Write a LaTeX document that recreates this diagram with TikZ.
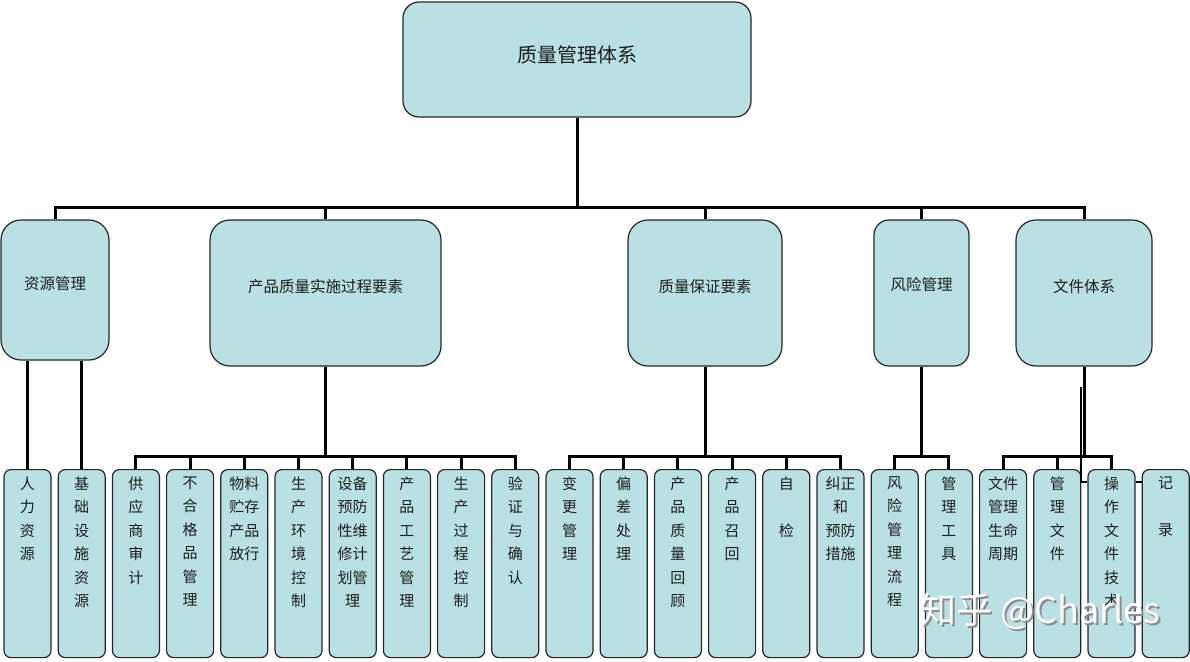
\documentclass[tikz,border=0pt]{standalone}
\usepackage{fontspec}
\newfontfamily\cjk{Noto Sans CJK SC}
\usepackage{tikz}

\definecolor{boxfill}{HTML}{B9E0E2}
\definecolor{boxline}{HTML}{262626}
\definecolor{inkgray}{HTML}{1E1E1E}

\tikzset{
  root/.style={draw=boxline,line width=1.2pt,fill=boxfill,rounded corners=16pt,
    minimum width=348pt,minimum height=115pt,text depth=11pt,
    font=\cjk\fontsize{20}{24}\selectfont,text=inkgray},
  branch/.style={draw=boxline,line width=1.2pt,fill=boxfill,rounded corners=20pt,
    minimum height=146pt,text depth=14pt,inner sep=0pt,
    font=\cjk\fontsize{15.5}{20}\selectfont,text=inkgray},
  leaf/.style={draw=boxline,line width=1.2pt,fill=boxfill,rounded corners=7pt,
    anchor=north,minimum width=47pt,minimum height=188pt,inner sep=0pt,
    font=\cjk\fontsize{15}{23.5}\selectfont,text=inkgray},
  link/.style={line width=3pt,black},
  thinlink/.style={line width=2.2pt,black},
  wmshadow/.style={font=\cjk\fontsize{36}{40}\selectfont,text=black!45},
  wmtext/.style={font=\cjk\fontsize{36}{40}\selectfont,text=white}
}
\newcommand{\leaftext}[1]{\parbox[t][174pt][t]{46pt}{\centering #1}}

\begin{document}
\begin{tikzpicture}[x=1pt,y=-1pt]
    \useasboundingbox (0,0) rectangle (1190,661);

    % top box
    \node[root] (top) at (577,59.5) {质量管理体系};

    % second row
    \node[branch,minimum width=108pt,minimum height=140pt] (res) at (55,290) {资源管理};
    \node[branch,minimum width=231pt] (prod) at (325.5,293) {产品质量实施过程要素};
    \node[branch,minimum width=154pt] (qa) at (705,293) {质量保证要素};
    \node[branch,minimum width=95pt,rounded corners=15pt,text depth=18pt] (risk) at (921.5,293) {风险管理};
    \node[branch,minimum width=136pt] (doc) at (1084,293) {文件体系};

    % bottom row
    \node[leaf] (l1) at (27.5,469) {\leaftext{人\\力\\资\\源}};
    \node[leaf] (l2) at (81.7,469) {\leaftext{基\\础\\设\\施\\资\\源}};
    \node[leaf] (l3) at (135.9,469) {\leaftext{供\\应\\商\\审\\计}};
    \node[leaf] (l4) at (190.1,469) {\leaftext{不\\合\\格\\品\\管\\理}};
    \node[leaf] (l5) at (244.3,469) {\leaftext{物料\\贮存\\产品\\放行}};
    \node[leaf] (l6) at (298.5,469) {\leaftext{生\\产\\环\\境\\控\\制}};
    \node[leaf] (l7) at (352.7,469) {\leaftext{设备\\预防\\性维\\修计\\划管\\理}};
    \node[leaf] (l8) at (406.9,469) {\leaftext{产\\品\\工\\艺\\管\\理}};
    \node[leaf] (l9) at (461.1,469) {\leaftext{生\\产\\过\\程\\控\\制}};
    \node[leaf] (l10) at (515.3,469) {\leaftext{验\\证\\与\\确\\认}};
    \node[leaf] (l11) at (569.5,469) {\leaftext{变\\更\\管\\理}};
    \node[leaf] (l12) at (623.7,469) {\leaftext{偏\\差\\处\\理}};
    \node[leaf] (l13) at (677.9,469) {\leaftext{产\\品\\质\\量\\回\\顾}};
    \node[leaf] (l14) at (732.1,469) {\leaftext{产\\品\\召\\回}};
    \node[leaf] (l15) at (786.3,469) {\leaftext{自\\\mbox{}\\检}};
    \node[leaf] (l16) at (840.5,469) {\leaftext{纠正\\和\\预防\\措施}};
    \node[leaf] (l17) at (894.7,469) {\leaftext{风\\险\\管\\理\\流\\程}};
    \node[leaf] (l18) at (948.9,469) {\leaftext{管\\理\\工\\具}};
    \node[leaf] (l19) at (1003.1,469) {\leaftext{文件\\管理\\生命\\周期}};
    \node[leaf] (l20) at (1057.3,469) {\leaftext{管\\理\\文\\件}};
    \node[leaf] (l21) at (1111.5,469) {\leaftext{操\\作\\文\\件\\技\\术}};
    \node[leaf] (l22) at (1165.7,469) {\leaftext{记\\\mbox{}\\录}};

    % bar heights
    \coordinate (y1) at (0,207);
    \coordinate (y2) at (0,456);
    \coordinate (y3) at (0,482);
    \coordinate (dx) at (1081,387);

    % top to second row
    \draw[link] (top.south) -- (top |- y1);
    \draw[link] (res.north) |- (top |- y1) -| (doc.north);
    \draw[link] (prod.north) -- (prod |- y1);
    \draw[link] (qa.north) -- (qa |- y1);
    \draw[link] (risk.north) -- (risk |- y1);

    % resources
    \draw[link] (l1.north) -- (l1 |- res.south);
    \draw[link] (l2.north) -- (l2 |- res.south);

    % product realisation
    \draw[link] (prod.south) -- (prod |- y2);
    \draw[link] (l3.north) |- (prod |- y2) -| (l10.north);
    \draw[link] (l4.north) -- (l4 |- y2);
    \draw[link] (l5.north) -- (l5 |- y2);
    \draw[link] (l6.north) -- (l6 |- y2);
    \draw[link] (l7.north) -- (l7 |- y2);
    \draw[link] (l8.north) -- (l8 |- y2);
    \draw[link] (l9.north) -- (l9 |- y2);

    % quality assurance
    \draw[link] (qa.south) -- (qa |- y2);
    \draw[link] (l11.north) |- (qa |- y2) -| (l16.north);
    \draw[link] (l12.north) -- (l12 |- y2);
    \draw[link] (l13.north) -- (l13 |- y2);
    \draw[link] (l14.north) -- (l14 |- y2);
    \draw[link] (l15.north) -- (l15 |- y2);

    % risk
    \draw[link] (risk.south) -- (risk |- y2);
    \draw[link] (l17.north) |- (risk |- y2) -| (l18.north);

    % documents
    \draw[link] (doc.south) -- (doc |- y2);
    \draw[link] (l19.north) |- (doc |- y2) -| (l21.north);
    \draw[link] (l20.north) -- (l20 |- y2);
    \draw[thinlink] (dx) |- (l21.west |- y3);
    \draw[thinlink] (l21.east |- y3) -- (l22.west |- y3);

    % watermark
    \node[wmshadow] (wms) at (1042.5,613) {知乎 @Charles};
    \node[wmtext] (wm) at (1040.5,611) {知乎 @Charles};
\end{tikzpicture}
\end{document}
